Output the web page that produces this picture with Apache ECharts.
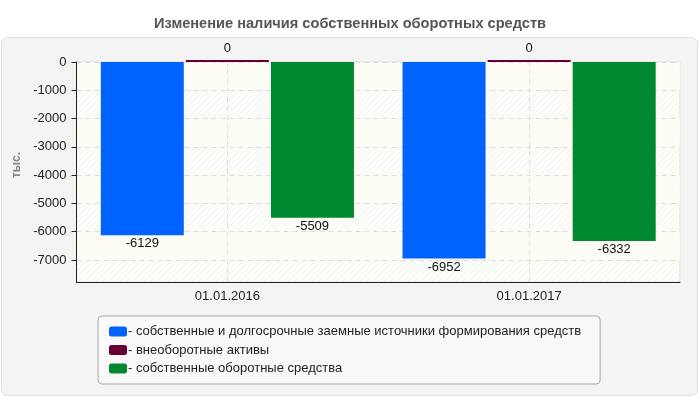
<!DOCTYPE html>
<html>
<head>
<meta charset="utf-8">
<script src="https://cdn.jsdelivr.net/npm/echarts@6/dist/echarts.min.js"></script>
<style>
html, body { margin: 0; padding: 0; background: #fff; }
#chart { width: 700px; height: 400px; }
</style>
</head>
<body>
<div id="chart"></div>
<script>
// данные с картинки
const categories = ['01.01.2016', '01.01.2017'];
const seriesNames = [
    'собственные и долгосрочные заемные источники формирования средств',
    'внеоборотные активы',
    'собственные оборотные средства'
];
const ownAndLongTerm = [-6129, -6952];
const nonCurrent = [0, 0];
const ownCurrent = [-5509, -6332];
const colors = ['#0063ff', '#660033', '#00882f'];

// штриховка фона области графика
function makeHatch() {
    let c = document.createElement('canvas');
    c.width = 6;
    c.height = 6;
    let ctx = c.getContext('2d');
    ctx.fillStyle = '#fdfdf9';
    ctx.fillRect(0, 0, 6, 6);
    ctx.strokeStyle = '#f1f1ef';
    ctx.lineWidth = 1;
    ctx.beginPath();
    ctx.moveTo(0, 6); ctx.lineTo(6, 0);
    ctx.moveTo(-3, 3); ctx.lineTo(3, -3);
    ctx.moveTo(3, 9); ctx.lineTo(9, 3);
    ctx.stroke();
    return c;
}

let chart = echarts.init(document.getElementById('chart'));
const font = 'Liberation Sans, Arial, sans-serif';

function barSeries(i, values, labelPos) {
    return {
        name: seriesNames[i],
        type: 'bar',
        data: values,
        barWidth: 83,
        barGap: '2.5%',
        barMinHeight: i === 1 ? 2 : 0,
        clip: false,
        itemStyle: { color: colors[i] },
        label: {
            show: true,
            position: labelPos,
            distance: labelPos === 'top' ? 5 : 2,
            color: '#111',
            fontSize: 13,
            fontFamily: font
        }
    };
}

let series = [
    barSeries(0, ownAndLongTerm, 'bottom'),
    barSeries(1, nonCurrent, 'top'),
    barSeries(2, ownCurrent, 'bottom')
];
// вертикальные пунктиры по центрам категорий
series[1].markLine = {
    silent: true,
    symbol: 'none',
    label: { show: false },
    lineStyle: { color: '#dcdcdc', type: [5, 4], width: 1 },
    data: categories.map(c => ({ xAxis: c }))
};

let option = {
    backgroundColor: '#fff',
    animation: false,
    textStyle: { fontFamily: font },
    title: {
        text: 'Изменение наличия собственных оборотных средств',
        left: 'center',
        top: 11,
        textStyle: { fontSize: 14.6, fontWeight: 'bold', color: '#555', fontFamily: font }
    },
    graphic: [{
        type: 'rect',
        z: -10,
        shape: { x: 1.5, y: 37.5, width: 696, height: 358, r: 6 },
        style: { fill: '#f4f4f4', stroke: '#e0e0e0', lineWidth: 1 }
    }],
    grid: {
        left: 76.5,
        right: 20,
        top: 62,
        bottom: 118,
        show: true,
        backgroundColor: { image: makeHatch(), repeat: 'repeat' },
        borderColor: '#dddddd',
        borderWidth: 1
    },
    legend: {
        orient: 'vertical',
        left: 98,
        top: 316,
        width: 500,
        padding: [9, 19, 9, 11],
        itemGap: 5.5,
        itemWidth: 18,
        itemHeight: 10,
        icon: 'roundRect',
        backgroundColor: '#f9f9f9',
        borderColor: '#a8a8a8',
        borderWidth: 1,
        borderRadius: 4,
        formatter: '- {name}',
        textStyle: { fontSize: 13, color: '#222', fontFamily: font, padding: [0, 0, 0, -4] },
        data: seriesNames
    },
    xAxis: {
        type: 'category',
        data: categories,
        axisLine: { onZero: false, lineStyle: { color: '#222' } },
        axisTick: { alignWithLabel: true, length: 4, lineStyle: { color: '#222' } },
        axisLabel: { color: '#222', fontSize: 13, margin: 8 },
        splitLine: { show: false }
    },
    yAxis: {
        type: 'value',
        min: -7780,
        max: 0,
        minInterval: 1000,
        maxInterval: 1000,
        name: 'тыс.',
        nameLocation: 'middle',
        nameGap: 2,
        nameTextStyle: { color: '#888', fontSize: 12, fontWeight: 'bold', padding: [0, 0, 0, 14] },
        axisLine: { show: true, lineStyle: { color: '#222' } },
        axisTick: { show: true, length: 5, lineStyle: { color: '#222' } },
        axisLabel: {
            color: '#222', fontSize: 13, margin: 10, showMinLabel: false,
            formatter: v => String(v)
        },
        splitLine: { lineStyle: { color: '#dcdcdc', type: [5, 4] } },
        splitArea: { show: true, areaStyle: { color: ['rgba(0,0,0,0)', 'rgba(253,253,246,0.85)'] } }
    },
    series: series
};

chart.setOption(option);
</script>
</body>
</html>
